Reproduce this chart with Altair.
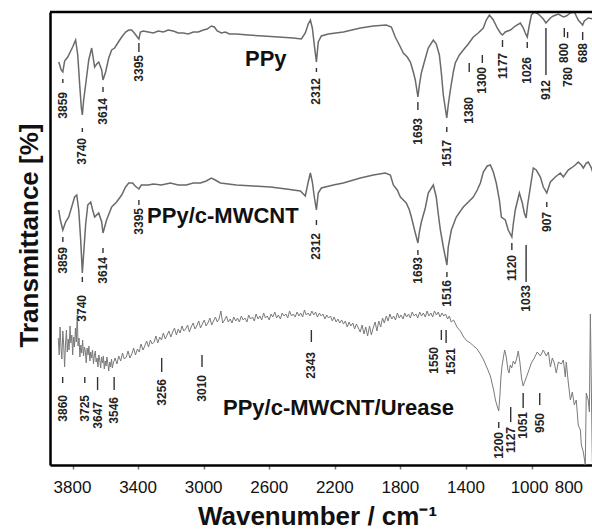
import altair as alt
import pandas as pd

# ---------------------------------------------------------------------------
# FTIR spectra: wavenumber in cm-1, transmittance in % (traces stacked)
# ---------------------------------------------------------------------------
PPY_WN = [3884, 3878, 3869, 3859, 3848, 3829, 3811, 3799, 3781, 3768, 3756, 3746, 3740, 3732, 3720,
          3701, 3683, 3665, 3652, 3640, 3622, 3614, 3598, 3579, 3561, 3543, 3524, 3500, 3476, 3457,
          3439, 3418, 3405, 3395, 3386, 3368, 3338, 3307, 3277, 3246, 3216, 3185, 3155, 3124, 3094,
          3063, 3033, 3002, 2978, 2953, 2935, 2917, 2892, 2868, 2843, 2801, 2728, 2636, 2544, 2453,
          2404, 2380, 2362, 2349, 2337, 2325, 2312, 2301, 2282, 2240, 2148, 2044, 1965, 1886, 1855,
          1831, 1806, 1782, 1758, 1739, 1721, 1709, 1693, 1684, 1672, 1654, 1630, 1599, 1581, 1562,
          1550, 1538, 1517, 1508, 1495, 1477, 1465, 1440, 1416, 1386, 1355, 1325, 1294, 1276, 1257,
          1233, 1209, 1190, 1177, 1160, 1129, 1099, 1068, 1050, 1038, 1026, 1013, 1001, 983, 958,
          928, 912, 885, 867, 836, 806, 788, 763, 739, 715, 688, 678, 654, 623, 593]
PPY_T = [80.6, 80.0, 79.0, 78.6, 80.8, 81.6, 82.8, 83.6, 85.0, 82.0, 76.0, 71.4, 70.0, 73.0, 76.0,
         81.0, 83.4, 79.6, 80.2, 80.6, 79.0, 77.0, 78.6, 81.4, 83.0, 83.4, 84.4, 85.6, 86.6, 87.0,
         87.0, 86.2, 85.6, 85.2, 86.6, 86.8, 86.6, 86.4, 86.8, 86.6, 87.0, 86.8, 86.4, 86.4, 86.2,
         86.6, 86.6, 87.0, 87.2, 87.8, 87.6, 86.8, 86.4, 86.6, 86.2, 86.2, 86.0, 85.8, 85.6, 85.4,
         85.2, 86.4, 88.2, 89.0, 87.4, 84.0, 80.6, 84.6, 85.8, 86.2, 86.6, 87.4, 87.8, 88.0, 87.6,
         85.6, 84.0, 82.4, 81.6, 80.6, 78.6, 77.0, 73.6, 76.0, 78.4, 80.6, 83.4, 85.0, 84.2, 82.0,
         78.4, 74.0, 69.4, 72.0, 75.0, 78.6, 80.4, 82.0, 83.0, 84.2, 85.6, 86.4, 87.4, 89.0, 90.0,
         89.0, 87.4, 86.4, 86.0, 86.6, 87.0, 87.8, 88.4, 87.4, 86.4, 85.6, 88.0, 90.0, 90.6, 90.2,
         89.2, 88.4, 89.4, 89.8, 90.2, 89.6, 89.8, 90.4, 90.6, 89.0, 88.0, 88.8, 89.4, 89.2, 89.4]

MW_WN = [3884, 3874, 3859, 3842, 3823, 3805, 3787, 3774, 3762, 3750, 3740, 3720, 3707, 3689, 3677,
         3665, 3640, 3622, 3614, 3592, 3561, 3531, 3500, 3476, 3457, 3433, 3418, 3395, 3380, 3338,
         3307, 3258, 3203, 3155, 3106, 3063, 3020, 2984, 2953, 2929, 2898, 2850, 2801, 2697, 2593,
         2496, 2410, 2380, 2362, 2349, 2337, 2325, 2312, 2301, 2282, 2209, 2148, 2044, 1965, 1892,
         1861, 1843, 1819, 1800, 1782, 1764, 1745, 1733, 1721, 1709, 1693, 1684, 1672, 1648, 1630,
         1599, 1581, 1568, 1556, 1538, 1516, 1508, 1489, 1459, 1416, 1355, 1331, 1312, 1294, 1270,
         1251, 1233, 1215, 1196, 1184, 1160, 1142, 1120, 1112, 1099, 1074, 1056, 1044, 1033, 1024,
         1007, 989, 971, 946, 928, 907, 897, 885, 855, 824, 806, 776, 757, 733, 715,
         696, 684, 666, 654, 635, 611, 592]
MW_T = [51.0, 49.0, 47.0, 48.6, 49.6, 51.6, 53.6, 54.0, 51.0, 45.0, 38.4, 48.0, 52.0, 52.6, 51.0,
        49.6, 50.4, 48.6, 46.4, 49.0, 51.6, 52.6, 54.0, 55.6, 56.4, 56.4, 55.8, 55.2, 56.0, 56.0,
        56.2, 56.0, 56.4, 56.0, 56.0, 56.4, 56.4, 56.8, 57.4, 57.0, 56.4, 56.2, 56.0, 55.8, 55.6,
        55.2, 54.8, 53.8, 56.6, 58.4, 56.6, 53.6, 51.0, 54.4, 55.4, 56.0, 56.4, 57.4, 58.0, 58.4,
        58.0, 56.0, 55.0, 53.6, 53.0, 52.4, 51.0, 49.6, 48.0, 46.4, 44.4, 46.6, 48.6, 51.4, 54.4,
        56.0, 53.6, 50.0, 47.0, 43.6, 40.0, 43.6, 47.0, 49.6, 51.6, 53.6, 55.0, 56.4, 58.6, 59.8,
        60.0, 58.6, 56.4, 53.0, 49.6, 49.0, 47.0, 45.6, 48.0, 51.0, 54.4, 52.4, 50.4, 49.4, 52.0,
        55.6, 59.4, 59.0, 57.6, 55.6, 54.4, 55.4, 56.6, 57.6, 58.4, 57.6, 59.0, 59.4, 60.0, 60.6,
        60.0, 59.4, 60.4, 60.6, 59.4, 57.0, 56.0]

URE_WN = [3887, 3881, 3876, 3870, 3865, 3859, 3854, 3848, 3843, 3837, 3832, 3826, 3821, 3815, 3810,
          3804, 3799, 3793, 3788, 3782, 3777, 3771, 3766, 3760, 3755, 3749, 3744, 3738, 3733, 3727,
          3722, 3716, 3711, 3705, 3700, 3694, 3689, 3683, 3678, 3672, 3667, 3661, 3656, 3650, 3645,
          3639, 3634, 3628, 3623, 3617, 3612, 3606, 3601, 3595, 3590, 3584, 3579, 3573, 3568, 3562,
          3557, 3551, 3540, 3529, 3518, 3506, 3495, 3484, 3472, 3461, 3450, 3438, 3427, 3416, 3404,
          3393, 3382, 3370, 3359, 3348, 3336, 3325, 3314, 3302, 3291, 3280, 3268, 3257, 3246, 3234,
          3223, 3212, 3200, 3189, 3178, 3166, 3155, 3144, 3132, 3121, 3110, 3098, 3087, 3076, 3064,
          3053, 3042, 3030, 3019, 3008, 2996, 2985, 2974, 2962, 2951, 2940, 2928, 2917, 2906, 2895,
          2884, 2872, 2861, 2850, 2838, 2827, 2816, 2804, 2793, 2782, 2770, 2759, 2748, 2736, 2725,
          2714, 2702, 2691, 2680, 2668, 2657, 2646, 2634, 2623, 2612, 2600, 2589, 2578, 2566, 2555,
          2544, 2532, 2521, 2510, 2498, 2487, 2476, 2464, 2453, 2442, 2430, 2419, 2408, 2396, 2385,
          2374, 2362, 2351, 2340, 2328, 2317, 2306, 2294, 2283, 2272, 2260, 2249, 2238, 2226, 2215,
          2204, 2192, 2181, 2170, 2158, 2147, 2136, 2124, 2113, 2102, 2090, 2079, 2068, 2056, 2045,
          2034, 2022, 2011, 2000, 1988, 1977, 1966, 1954, 1943, 1932, 1920, 1909, 1898, 1886, 1875,
          1864, 1852, 1841, 1830, 1818, 1807, 1796, 1784, 1773, 1762, 1750, 1739, 1728, 1716, 1705,
          1694, 1682, 1671, 1660, 1648, 1637, 1626, 1614, 1603, 1592, 1580, 1569, 1558, 1546, 1535,
          1524, 1512, 1501, 1490, 1475, 1455, 1434, 1414, 1393, 1373, 1353, 1332, 1312, 1292, 1271,
          1251, 1231, 1220, 1210, 1200, 1193, 1187, 1180, 1170, 1164, 1154, 1144, 1137, 1130, 1121,
          1111, 1101, 1091, 1081, 1071, 1061, 1051, 1020, 1001, 983, 965, 946, 928, 910, 897,
          885, 873, 861, 849, 836, 818, 806, 794, 788, 776, 763, 751, 739, 727, 715,
          702, 696, 684, 672, 666, 654, 647, 641, 629, 617]
URE_T = [25.4, 22.0, 27.6, 23.4, 21.2, 26.8, 24.2, 19.6, 24.0, 27.0, 22.6, 25.2, 23.0, 27.8, 24.4,
         26.0, 22.0, 25.6, 23.6, 27.4, 24.6, 30.0, 23.8, 25.4, 21.6, 24.0, 22.4, 25.0, 21.8, 23.6,
         22.8, 20.4, 23.4, 22.0, 23.8, 20.8, 22.6, 21.4, 23.0, 20.2, 21.8, 22.8, 20.6, 21.4, 19.6,
         22.0, 21.0, 19.4, 21.6, 20.4, 21.8, 19.2, 20.8, 19.8, 21.6, 20.2, 18.8, 20.6, 19.6, 21.2,
         19.4, 20.4, 21.4, 20.2, 21.8, 20.8, 22.4, 21.2, 21.6, 22.8, 21.4, 22.2, 23.4, 22.0, 23.2,
         22.6, 24.2, 23.0, 23.8, 24.8, 23.6, 25.0, 24.2, 24.6, 25.8, 24.4, 25.6, 25.0, 26.4, 25.2,
         26.0, 26.8, 25.6, 26.6, 27.4, 26.0, 27.2, 26.4, 27.8, 26.8, 27.2, 28.0, 26.6, 27.6, 28.4,
         27.2, 27.8, 28.8, 27.4, 28.2, 29.0, 27.8, 28.4, 29.4, 28.0, 28.8, 29.6, 28.6, 29.2, 30.8,
         28.4, 29.0, 29.8, 28.6, 29.2, 28.4, 29.6, 28.8, 29.4, 28.6, 29.8, 29.0, 29.4, 28.6, 30.0,
         29.2, 29.6, 28.8, 30.2, 29.2, 29.8, 29.0, 30.4, 29.4, 29.8, 29.0, 30.2, 29.6, 30.6, 29.4,
         30.0, 29.2, 30.4, 29.8, 30.2, 29.4, 30.8, 29.8, 30.2, 29.6, 30.6, 29.8, 30.4, 29.6, 31.0,
         30.0, 30.4, 29.8, 30.8, 30.0, 30.6, 29.6, 30.4, 29.8, 30.2, 29.2, 30.0, 29.4, 29.8, 28.8,
         29.6, 28.6, 29.2, 28.4, 29.0, 28.2, 28.8, 27.6, 28.6, 27.8, 28.4, 27.2, 28.2, 27.4, 26.6,
         28.0, 26.2, 27.6, 25.8, 27.8, 26.0, 27.4, 28.6, 26.8, 28.8, 27.6, 29.4, 28.4, 29.8, 28.8,
         30.2, 29.2, 29.8, 29.0, 30.4, 29.4, 30.0, 29.2, 30.4, 29.6, 30.2, 29.4, 30.6, 29.8, 30.2,
         29.4, 30.6, 29.8, 30.4, 29.6, 30.8, 29.8, 30.4, 29.6, 30.8, 30.0, 30.6, 29.6, 30.4, 29.8,
         30.2, 29.2, 29.8, 28.6, 29.0, 27.6, 26.8, 25.6, 24.8, 24.4, 23.8, 23.2, 22.2, 21.0, 19.4,
         17.8, 15.0, 13.0, 11.8, 10.8, 13.8, 17.4, 19.8, 21.8, 23.0, 21.6, 19.0, 18.4, 20.0, 19.4,
         20.8, 20.2, 21.2, 22.8, 20.6, 17.4, 15.8, 18.6, 20.4, 21.4, 22.6, 21.8, 23.0, 21.8, 22.6,
         19.6, 21.4, 20.4, 18.4, 20.6, 20.2, 21.0, 17.6, 20.6, 16.6, 13.0, 14.6, 12.0, 13.0, 8.0,
         7.0, 4.0, 2.6, 0.0, 14.4, 13.0, 10.6, 30.2, 0.6, 0.0]

SAMPLES = ["PPy", "PPy/c-MWCNT", "PPy/c-MWCNT/Urease"]

# Band assignments: wavenumber, marker top/bottom and label top (transmittance units)
BAND_WN = [3859, 3740, 3614, 3395, 2312, 1693, 1517, 1380, 1300, 1177, 1026, 912, 800, 780, 688,
           3859, 3740, 3614, 3395, 2312, 1693, 1516, 1120, 1033, 907,
           3860, 3725, 3647, 3546, 3256, 3010, 2343, 1550, 1521, 1200, 1127, 1051, 950]
BAND_TOP = [77.2, 67.4, 75.6, 84.4, 79.4, 72.6, 67.6, 80.4, 82.0, 85.0, 84.6, 87.4, 87.4, 86.6, 86.6,
            45.6, 37.6, 43.4, 53.0, 49.0, 43.0, 38.6, 44.4, 44.0, 52.6,
            17.6, 17.6, 17.6, 17.6, 21.4, 22.0, 27.0, 27.0, 27.0, 8.6, 11.6, 14.4, 14.4]
BAND_BOTTOM = [76.4, 66.6, 74.6, 82.6, 78.6, 71.0, 66.6, 78.6, 80.4, 83.6, 83.4, 78.0, 85.6, 85.4, 85.0,
               44.6, 36.6, 42.4, 52.0, 48.0, 42.0, 37.6, 43.0, 36.6, 51.6,
               16.4, 16.4, 15.0, 15.0, 18.6, 19.6, 24.6, 25.0, 24.4, 7.4, 8.6, 11.4, 12.0]
BAND_TEXT = [74.6, 65.4, 73.4, 82.0, 77.4, 69.4, 65.0, 73.6, 79.6, 82.4, 81.6, 77.0, 84.4, 79.6, 84.4,
             43.6, 34.0, 41.6, 51.4, 46.4, 41.6, 37.0, 42.0, 36.0, 50.6,
             14.0, 14.0, 12.6, 13.6, 17.2, 18.0, 22.6, 23.6, 23.4, 6.6, 7.6, 10.6, 10.4]
# labels of two close urease bands are spread apart (cm-1)
LABEL_SPREAD = {1550: 45, 1521: -30}

# sample names: left edge wavenumber and baseline
NAME_WN = [2748, 3345, 2882]
NAME_T = [79.8, 48.4, 10.0]

TICK_VALUES = [3800, 3600, 3400, 3200, 3000, 2800, 2600, 2400, 2200,
               2000, 1800, 1600, 1400, 1200, 1000, 800]
TICK_LABELS = [3800, 3400, 3000, 2600, 2200, 1800, 1400, 1000, 800]
# the last two labels are pushed apart slightly (cm-1)
TICK_LABEL_SPREAD = {1000: 12, 800: -28}

for a, b in [(PPY_WN, PPY_T), (MW_WN, MW_T), (URE_WN, URE_T)]:
    assert len(a) == len(b), (len(a), len(b))
assert len(BAND_WN) == len(BAND_TOP) == len(BAND_BOTTOM) == len(BAND_TEXT)

W, H = 542, 453
FONT = "Liberation Sans"

spectra = {
    name: pd.DataFrame({"wn": wn, "t": t, "i": range(len(wn))})
    for name, wn, t in zip(SAMPLES, [PPY_WN, MW_WN, URE_WN], [PPY_T, MW_T, URE_T])
}
bands = pd.DataFrame({
    "wn": BAND_WN,
    "top": BAND_TOP,
    "bottom": BAND_BOTTOM,
    "ttop": BAND_TEXT,
    "label": [str(v) for v in BAND_WN],
    "lwn": [v + LABEL_SPREAD.get(v, 0) for v in BAND_WN],
})
names = pd.DataFrame({"name": SAMPLES, "wn": NAME_WN, "t": NAME_T})
tick_labels = pd.DataFrame({
    "label": [str(v) for v in TICK_LABELS],
    "pos": [v + TICK_LABEL_SPREAD.get(v, 0) for v in TICK_LABELS],
})

x_scale = alt.Scale(domain=[3937.25, 631.05], nice=False, zero=False)
y_scale = alt.Scale(domain=[0, 90.6], nice=False, zero=False)

x_axis = alt.Axis(
    values=TICK_VALUES, labels=False,
    ticks=True, tickSize=4, tickWidth=1.5, tickColor="#777",
    domainColor="black", domainWidth=2.5, grid=False,
    title="Wavenumber / cm\u207b\u00b9", titleFont=FONT, titleFontSize=26,
    titleFontWeight="bold", titleColor="#111", titleX=267, titleY=59,
    titleAlign="center", titleBaseline="alphabetic",
)
y_axis = alt.Axis(
    labels=False, ticks=False, grid=False, domainColor="black", domainWidth=2.5,
    title="Transmittance [%]", titleFont=FONT, titleFontSize=26, titleFontWeight="bold",
    titleColor="#111", titleAngle=270, titleX=-13, titleY=223,
    titleAlign="center", titleBaseline="alphabetic",
)

X = alt.X("wn:Q", scale=x_scale, axis=x_axis)
Y = alt.Y("t:Q", scale=y_scale, axis=y_axis)

top_edge = alt.Chart(pd.DataFrame({"k": [0]})).mark_rule(
    color="black", strokeWidth=2.5
).encode(x=alt.value(0), x2=alt.value(W), y=alt.value(0))

line_styles = {
    "PPy": ("#6a6a6a", 1.5),
    "PPy/c-MWCNT": ("#6a6a6a", 1.5),
    "PPy/c-MWCNT/Urease": ("#7a7a7a", 1.0),
}
lines = [
    alt.Chart(spectra[s]).mark_line(
        color=line_styles[s][0], strokeWidth=line_styles[s][1], clip=True
    ).encode(x=X, y=Y, order="i:Q")
    for s in SAMPLES
]

band_ticks = alt.Chart(bands).mark_rule(color="#333", strokeWidth=1.4).encode(
    x=alt.X("wn:Q", scale=x_scale),
    y=alt.Y("top:Q", scale=y_scale),
    y2="bottom:Q",
)
band_labels = alt.Chart(bands).mark_text(
    angle=270, align="right", baseline="middle", font=FONT,
    fontSize=12, fontWeight="bold", color="#222",
).encode(
    x=alt.X("lwn:Q", scale=x_scale),
    y=alt.Y("ttop:Q", scale=y_scale),
    text="label:N",
)
name_labels = alt.Chart(names).mark_text(
    align="left", baseline="alphabetic", font=FONT, fontSize=22,
    fontWeight="bold", color="#111",
).encode(
    x=alt.X("wn:Q", scale=x_scale),
    y=alt.Y("t:Q", scale=y_scale),
    text="name:N",
)
axis_numbers = alt.Chart(tick_labels).mark_text(
    align="center", baseline="alphabetic", font=FONT, fontSize=17, color="#111",
).encode(
    x=alt.X("pos:Q", scale=x_scale),
    y=alt.value(H + 28),
    text="label:N",
)

chart = alt.layer(
    *lines, band_ticks, band_labels, name_labels, axis_numbers, top_edge
).properties(
    width=W, height=H, autosize="none",
    padding={"left": 50, "top": 12, "right": 0, "bottom": 64},
).configure_view(stroke=None).configure(font=FONT, background="white")

chart.save("out.html", embed_options={"renderer": "svg", "actions": False})
